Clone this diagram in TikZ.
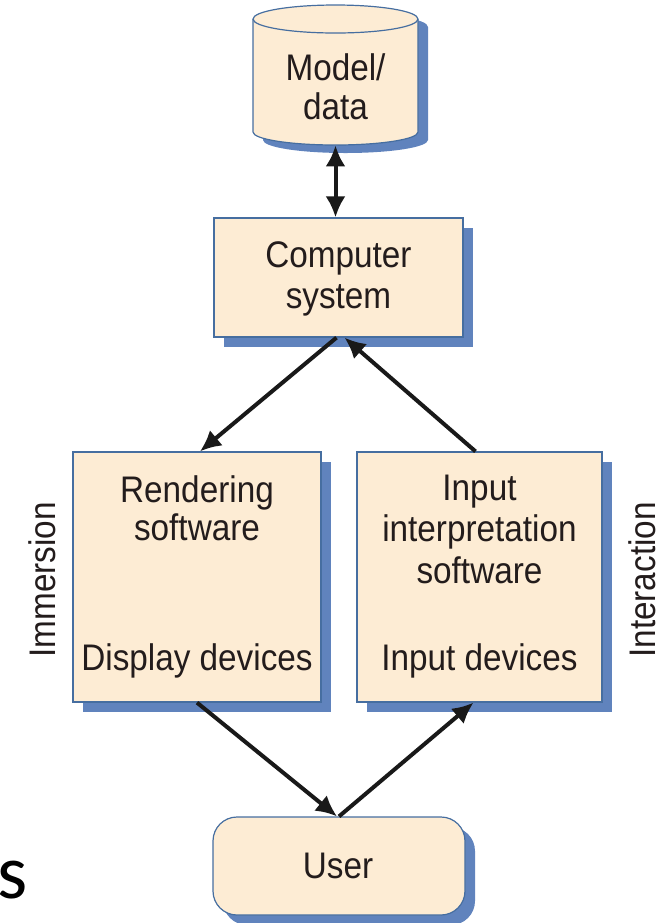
\documentclass[tikz,border=0pt]{standalone}
\usepackage{fontspec}
\setmainfont[FakeStretch=0.9]{Liberation Sans}
\newfontfamily\slidefont{Carlito}
\usetikzlibrary{arrows.meta,shadows}
\definecolor{peach}{RGB}{253,236,212}
\definecolor{shadowblue}{RGB}{96,131,189}
\definecolor{edgeblue}{RGB}{70,110,160}
\definecolor{inktext}{RGB}{35,28,28}
\begin{document}
\begin{tikzpicture}[x=0.5pt,y=-0.5pt,
  box/.style={draw=edgeblue, line width=0.6pt, fill=peach, inner sep=0,
    copy shadow={shadow xshift=5pt, shadow yshift=-5pt, fill=shadowblue, draw=none}},
  lbl/.style={font=\fontsize{18.5}{20.5}\selectfont, text=inktext, inner sep=0, anchor=base},
  side/.style={lbl, rotate=90},
  conn/.style={line width=2pt, draw=black!90, -{Latex[length=10.5pt,width=10pt]}},
  conn2/.style={line width=2pt, draw=black!90, {Latex[length=10.5pt,width=10pt]}-{Latex[length=10.5pt,width=10pt]}}
]
\useasboundingbox (0,0) rectangle (672,923);

% cylinder (model/data)
\fill[shadowblue] (263,27) -- (263,140) arc[start angle=180,end angle=360,x radius=41.25pt,y radius=6.5pt]
  -- (428,27) arc[start angle=0,end angle=180,x radius=41.25pt,y radius=7pt] -- cycle;
\draw[edgeblue, line width=0.6pt, fill=peach] (253,19) -- (253,132)
  arc[start angle=180,end angle=360,x radius=41.25pt,y radius=6.5pt]
  -- (418,19) arc[start angle=0,end angle=180,x radius=41.25pt,y radius=7pt] -- cycle;
\draw[edgeblue, line width=0.6pt] (253,19) arc[start angle=180,end angle=360,x radius=41.25pt,y radius=7pt];
\node[draw=none, inner sep=0, minimum width=82.5pt, minimum height=70pt] (model) at (335.5,75) {};
\node[lbl] (m1) at (335.5,80) {Model/};
\node[lbl] (m2) at (335.5,119) {data};

% boxes
\node[box, minimum width=124.5pt, minimum height=59.5pt] (computer) at (338.5,277.5) {};
\node[box, minimum width=124pt, minimum height=125pt] (render) at (197,577) {};
\node[box, minimum width=122.5pt, minimum height=125pt] (input) at (479.5,577) {};
\node[box, rounded corners=12pt, minimum width=126pt, minimum height=49pt] (user) at (339,866) {};

% texts
\node[lbl] (c1) at (338.5,267) {Computer};
\node[lbl] (c2) at (338.5,308) {system};
\node[lbl] (r1) at (197,502) {Rendering};
\node[lbl] (r2) at (197,540) {software};
\node[lbl] (r3) at (197,670) {Display devices};
\node[lbl] (i1) at (479.5,500) {Input};
\node[lbl] (i2) at (479.5,541) {interpretation};
\node[lbl] (i3) at (479.5,583) {software};
\node[lbl] (i4) at (479.5,670) {Input devices};
\node[lbl] (u1) at (338,878) {User};
\node[side] (imm) at (55,580) {Immersion};
\node[side] (int) at (655,580) {Interaction};
\node[anchor=base west, inner sep=0, font=\slidefont\fontsize{38.6}{40}\selectfont] (stray) at (-3,898) {s};

% connectors
\draw[conn2] (model.south) -- (model.south |- computer.north);
\draw[conn] ([xshift=-1pt]computer.south) -- ([xshift=1.5pt]render.north);
\draw[conn] ([xshift=-2pt]input.north) -- ([xshift=3pt]computer.south);
\draw[conn] (render.south) -- ([xshift=-1pt]user.north);
\draw[conn] (user.north) -- ([xshift=-3pt]input.south);
\end{tikzpicture}
\end{document}
